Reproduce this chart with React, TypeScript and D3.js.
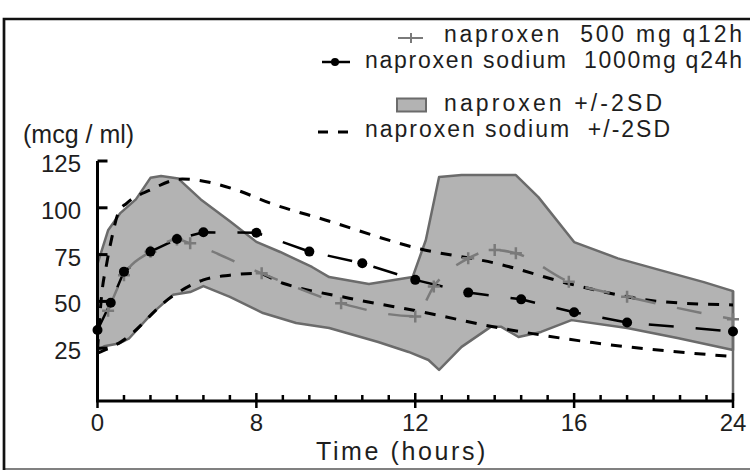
import React, { useEffect, useRef } from "react"
import * as d3 from "d3"

const W = 750
const H = 470
const FONT = "'Liberation Sans', Arial, Helvetica, sans-serif"

// naproxen sodium 1000mg q24h, mean
const sodiumHours = [0, 0.5, 1, 2, 3, 4, 6, 8, 10, 12, 14, 16, 18, 20, 24]
const sodiumMean = [34.7, 49.3, 65.9, 76.6, 83.3, 86.9, 86.7, 76.6, 70.4, 61.5, 54.7, 51.1, 44.2, 38.7, 33.9]

// naproxen 500 mg q12h, mean
const naproxenHours = [0.4, 1, 2, 3, 3.5, 6.2, 9.2, 12, 12.7, 14, 15, 15.8, 17.8, 20, 24]
const naproxenMean = [45, 64, 76.5, 83, 81, 65, 49, 42, 58, 73, 77.5, 75.7, 60.5, 52.5, 40.5]

// naproxen +/-2SD (shaded band)
const bandUpperHours = [0, 0.4, 0.85, 1.45, 2, 2.4, 3.05, 3.9, 5, 6, 6.9, 8.1, 8.75, 10.25, 11.9, 12.4, 12.9, 13.75, 15.8, 16.65, 18, 19.65, 21.25, 22.9, 24]
const bandUpper = [70, 88, 97, 104.5, 116, 117, 115.6, 104.5, 92.8, 81.8, 76.4, 68.4, 63, 59.3, 63, 82.8, 116.5, 117.5, 117.5, 105.7, 81.7, 73, 66.7, 60.3, 55.5]
const bandLowerHours = [0, 0.25, 0.8, 1.2, 2.05, 2.85, 3.5, 4, 5, 6.25, 7.5, 8.75, 10.6, 11.75, 12.5, 12.9, 13.75, 14.85, 15.25, 15.9, 16.75, 17.9, 20, 21.9, 24]
const bandLower = [24, 26, 27.5, 30.3, 43.5, 53.5, 55, 58.2, 52.4, 43.8, 38.5, 35.8, 28.3, 23, 18.7, 13.4, 25.7, 36.4, 36.4, 31, 33.7, 40, 35.8, 30.5, 24]

// naproxen sodium +/-2SD (dashed)
const sdUpperHours = [0, 0.15, 0.35, 0.55, 0.8, 1.1, 2, 3.2, 5.25, 6.5, 8.6, 12.2, 15, 18, 21.2, 24]
const sdUpper = [24, 52.5, 70.4, 84.6, 97.9, 102.4, 109.6, 115.4, 109.5, 102.6, 93.5, 78, 70.5, 58.8, 50, 48.1]
const sdLowerHours = [0, 0.9, 2.8, 4, 5, 6, 7, 9.5, 12.5, 14.6, 18.7, 24]
const sdLower = [22.4, 28.5, 52.5, 61.5, 64, 65, 59.7, 51.7, 43.7, 37.4, 28, 20.5]

const xTickValues = [0, 6, 12, 18, 24]
const xTickLabels = ["0", "8", "12", "16", "24"]
const yTickValues = [25, 50, 75, 100, 125]

const legendLines = ["naproxen  500 mg q12h", "naproxen sodium  1000mg q24h"]
const legendBands = ["naproxen +/-2SD", "naproxen sodium  +/-2SD"]

const GRAY_LINE = "#7a7a7a"
const BAND_FILL = "#b3b3b3"
const BAND_STROKE = "#6b6b6b"
const TEXT = "#1e1e1e"

const pairs = (hs: number[], vs: number[]) => hs.map((h, i) => [h, vs[i]] as [number, number])

export default function App() {
    const ref = useRef<SVGSVGElement>(null)

    useEffect(() => {
        const svg = d3.select(ref.current)
        svg.selectAll("*").remove()

        const x = d3.scaleLinear().domain([0, 24]).range([97.5, 733])
        const y = d3.scaleLinear().domain([0, 125]).range([395, 161])
        const axisY = 401

        const line = d3.line<[number, number]>().x(d => x(d[0])).y(d => y(d[1]))
        const smooth = d3.line<[number, number]>().x(d => x(d[0])).y(d => y(d[1])).curve(d3.curveMonotoneX)

        // frame
        svg.append("path").attr("d", `M${W},${H - 1}H4`).attr("stroke", "#808080").attr("stroke-width", 2).attr("fill", "none")
        svg.append("path").attr("d", `M4,${H}V19H${W}`).attr("stroke", "#111").attr("stroke-width", 2.7).attr("fill", "none")

        // naproxen band
        const bandPts = [...pairs(bandUpperHours, bandUpper), ...pairs(bandLowerHours, bandLower).reverse()]
        svg.append("path")
            .attr("d", line(bandPts) + "Z")
            .attr("fill", BAND_FILL)
            .attr("stroke", BAND_STROKE)
            .attr("stroke-width", 2.5)
            .attr("stroke-linejoin", "round")
        svg.append("line")
            .attr("x1", x(24)).attr("x2", x(24))
            .attr("y1", y(bandUpper[bandUpper.length - 1])).attr("y2", axisY)
            .attr("stroke", BAND_STROKE).attr("stroke-width", 2.5)

        // naproxen sodium +/-2SD
        ;[pairs(sdUpperHours, sdUpper), pairs(sdLowerHours, sdLower)].forEach(p => {
            svg.append("path")
                .attr("d", smooth(p))
                .attr("fill", "none")
                .attr("stroke", "#000")
                .attr("stroke-width", 3)
                .attr("stroke-dasharray", "11,10")
        })

        // naproxen sodium mean
        const sodium = pairs(sodiumHours, sodiumMean)
        svg.append("path")
            .attr("d", line(sodium))
            .attr("fill", "none")
            .attr("stroke", "#000")
            .attr("stroke-width", 2.5)
            .attr("stroke-dasharray", "25,22")

        // naproxen mean
        const naproxen = pairs(naproxenHours, naproxenMean)
        svg.append("path")
            .attr("d", smooth(naproxen))
            .attr("fill", "none")
            .attr("stroke", GRAY_LINE)
            .attr("stroke-width", 2.5)
            .attr("stroke-dasharray", "25,22")
        svg.append("g").selectAll("path")
            .data(naproxen)
            .enter()
            .append("path")
            .attr("d", d => `M${x(d[0]) - 6},${y(d[1])}h12M${x(d[0])},${y(d[1]) - 6}v12`)
            .attr("stroke", GRAY_LINE)
            .attr("stroke-width", 2.5)

        svg.append("g").selectAll("circle")
            .data(sodium)
            .enter()
            .append("circle")
            .attr("cx", d => x(d[0]))
            .attr("cy", d => y(d[1]))
            .attr("r", 5)
            .attr("fill", "#000")

        // y axis
        svg.append("line").attr("x1", x(0)).attr("x2", x(0)).attr("y1", y(125)).attr("y2", axisY + 1)
            .attr("stroke", "#000").attr("stroke-width", 3)
        const yt = svg.append("g")
        yTickValues.forEach(v => {
            yt.append("line").attr("x1", x(0)).attr("x2", x(0) + 10).attr("y1", y(v)).attr("y2", y(v))
                .attr("stroke", "#000").attr("stroke-width", 3)
            yt.append("text").attr("x", 81).attr("y", y(v) + 11).attr("text-anchor", "end")
                .attr("font-family", FONT).attr("font-size", 24).attr("fill", TEXT).text(v)
        })
        svg.append("text").attr("x", 23).attr("y", 143)
            .attr("font-family", FONT).attr("font-size", 25).attr("fill", TEXT).text("(mcg / ml)")

        // x axis
        svg.append("line").attr("x1", x(0) - 1.5).attr("x2", x(24) + 1).attr("y1", axisY).attr("y2", axisY)
            .attr("stroke", "#000").attr("stroke-width", 3)
        d3.range(0, 25).forEach(h => {
            const major = xTickValues.includes(h)
            svg.append("line").attr("x1", x(h)).attr("x2", x(h))
                .attr("y1", axisY - (major ? 8 : 6)).attr("y2", axisY + (major ? 7 : 0))
                .attr("stroke", "#000").attr("stroke-width", 2.5)
        })
        xTickValues.forEach((h, i) => {
            svg.append("text").attr("x", x(h)).attr("y", 431).attr("text-anchor", "middle")
                .attr("font-family", FONT).attr("font-size", 24).attr("fill", TEXT).text(xTickLabels[i])
        })
        svg.append("text").attr("x", 402).attr("y", 460).attr("text-anchor", "middle")
            .attr("font-family", FONT).attr("font-size", 25).attr("letter-spacing", 2.6)
            .attr("fill", TEXT).text("Time (hours)")

        // legend
        const lg = svg.append("g").attr("font-family", FONT).attr("font-size", 23).attr("fill", TEXT)
        const legendText = (tx: number, ty: number, len: number, s: string) =>
            lg.append("text").attr("x", tx).attr("y", ty)
                .attr("textLength", len).attr("lengthAdjust", "spacing")
                .attr("xml:space", "preserve").style("white-space", "pre").text(s)

        lg.append("path").attr("d", "M398,38H423M411,33V43").attr("stroke", GRAY_LINE).attr("stroke-width", 2)
        legendText(444, 42, 298, legendLines[0])
        lg.append("line").attr("x1", 322).attr("x2", 350).attr("y1", 62).attr("y2", 62).attr("stroke", "#000").attr("stroke-width", 2.5)
        lg.append("circle").attr("cx", 335).attr("cy", 62).attr("r", 4).attr("fill", "#000")
        legendText(365, 68, 377, legendLines[1])
        lg.append("rect").attr("x", 397).attr("y", 98.5).attr("width", 29).attr("height", 13)
            .attr("fill", BAND_FILL).attr("stroke", BAND_STROKE).attr("stroke-width", 2)
        legendText(444, 111, 218, legendBands[0])
        lg.append("path").attr("d", "M318,132H328M338,132H348").attr("stroke", "#000").attr("stroke-width", 3)
        legendText(365, 137, 305, legendBands[1])
    }, [])

    return (
        <svg
            ref={ref}
            width={W}
            height={H}
            style={{ position: "absolute", left: 0, top: 0, background: "#fff" }}
        />
    )
}
